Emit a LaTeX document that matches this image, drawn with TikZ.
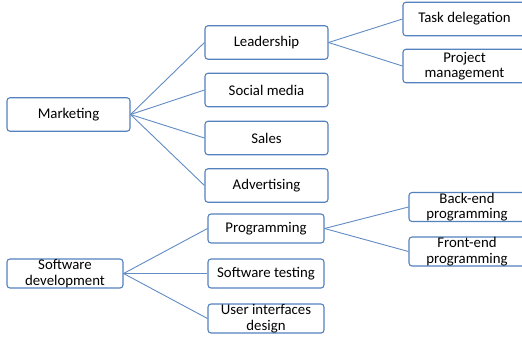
\documentclass[tikz,border=0pt]{standalone}
\usepackage{fontspec}
\setmainfont{Carlito}
\usepackage{tikz}
\definecolor{boxblue}{RGB}{84,130,190}
\definecolor{lineblue}{RGB}{98,140,196}

\begin{document}
\begin{tikzpicture}[x=1pt,y=-1pt,
  topic/.style={draw=boxblue, line width=1.1pt, rounded corners=3pt, fill=white, align=center,
    inner xsep=2pt, inner ysep=0pt, font=\fontsize{14.8}{15.5}\selectfont},
  wide/.style={topic, minimum width=123pt, minimum height=33.5pt},
  narrow/.style={topic, minimum width=116pt, minimum height=29pt},
  link/.style={draw=lineblue, line width=0.9pt}]
\fill[white] (0,0) rectangle (522,341);
\clip (0,0) rectangle (522,341);
% Marketing
\node[wide] (mkt) at (68.5,114.5) {Marketing};
\node[wide] (lead) at (266.5,42.5) {Leadership};
\node[wide] (social) at (266.5,90) {Social media};
\node[wide] (sales) at (266.5,138) {Sales};
\node[wide] (adv) at (266.5,185.5) {Advertising};
\node[wide] (task) at (464.5,19) {Task delegation};
\node[wide] (proj) at (464.5,66) {Project\\management};
% Software development
\node[narrow] (soft) at (65,273.5) {Software\\development};
\node[narrow] (prog) at (266,228.5) {Programming};
\node[narrow] (test) at (266,273.5) {Software testing};
\node[narrow] (ui) at (266,318.5) {User interfaces\\design};
\node[narrow] (back) at (467,207) {Back-end\\programming};
\node[narrow] (front) at (467,251.5) {Front-end\\programming};
% links
\foreach \t in {lead,social,sales,adv} {
\draw[link] (mkt.east) -- (\t.west);
}
\foreach \t in {task,proj} {
\draw[link] (lead.east) -- (\t.west);
}
\foreach \t in {prog,test,ui} {
\draw[link] (soft.east) -- (\t.west);
}
\foreach \t in {back,front} {
\draw[link] (prog.east) -- (\t.west);
}
\end{tikzpicture}
\end{document}
